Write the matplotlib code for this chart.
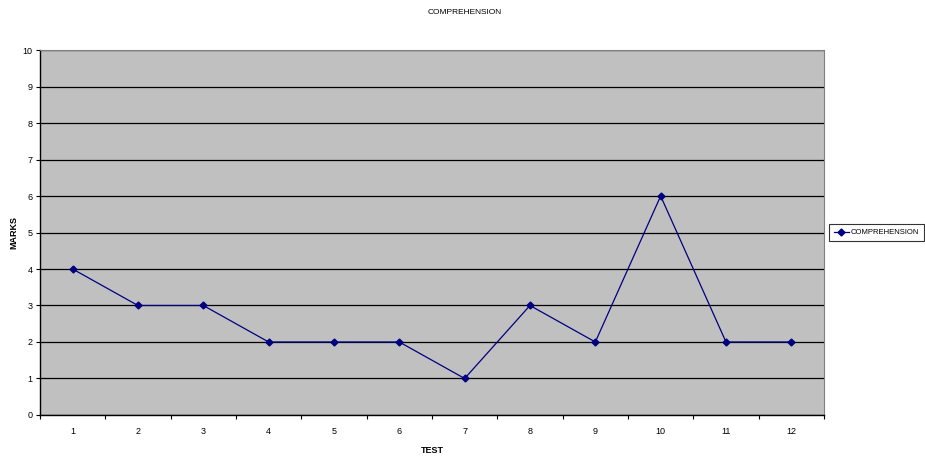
import matplotlib
matplotlib.use('Agg')
import matplotlib.pyplot as plt
from matplotlib.ticker import FixedLocator, NullFormatter

plt.rcParams['font.family'] = ['Liberation Sans Narrow', 'Liberation Sans', 'DejaVu Sans']

tests = [1, 2, 3, 4, 5, 6, 7, 8, 9, 10, 11, 12]
marks = [4, 3, 3, 2, 2, 2, 1, 3, 2, 6, 2, 2]

fig = plt.figure(figsize=(9.25, 4.59), dpi=100)
ax = fig.add_axes([0.0432, 0.0959, 0.8476, 0.7951])
ax.set_facecolor('#c0c0c0')

ax.plot(tests, marks, color='#000080', linewidth=0.9, marker='D', markersize=3.5,
        label='COMPREHENSION', zorder=3)

ax.set_xlim(0.5, 12.5)
ax.set_ylim(0, 10)
ax.set_yticks(range(0, 11))
ax.yaxis.grid(True, color='black', linewidth=0.9)
ax.set_axisbelow(True)

# category labels sit between tick marks
ax.xaxis.set_major_locator(FixedLocator([t + 0.5 for t in range(0, 13)]))
ax.xaxis.set_major_formatter(NullFormatter())
ax.xaxis.set_minor_locator(FixedLocator(tests))
ax.set_xticklabels([str(t) for t in tests], minor=True)
ax.tick_params(axis='x', which='minor', length=0, pad=9, labelsize=6.5)
ax.tick_params(axis='x', which='major', length=3, direction='out')
ax.tick_params(axis='y', length=3, labelsize=6.5, pad=2.5)

for side in ['top', 'right']:
    ax.spines[side].set_color('#808080')
for side in ['left', 'bottom']:
    ax.spines[side].set_color('black')
    ax.spines[side].set_linewidth(1.0)

ax.set_xlabel('TEST', fontsize=6.5, fontweight='bold', labelpad=7)
ax.set_ylabel('MARKS', fontsize=6.5, fontweight='bold')
ax.yaxis.set_label_coords(-0.027, 0.5)
fig.text(0.502, 0.98, 'COMPREHENSION', ha='center', va='top', fontsize=6)

leg = ax.legend(loc='center left', bbox_to_anchor=(1.007, 0.5), fontsize=5.5,
                frameon=True, fancybox=False, edgecolor='black', borderpad=0.6,
                handlelength=1.9, handletextpad=0.3, borderaxespad=0)
leg.get_frame().set_linewidth(0.8)
leg._legend_box.sep = 0

fig.savefig('out.png', dpi=100)
